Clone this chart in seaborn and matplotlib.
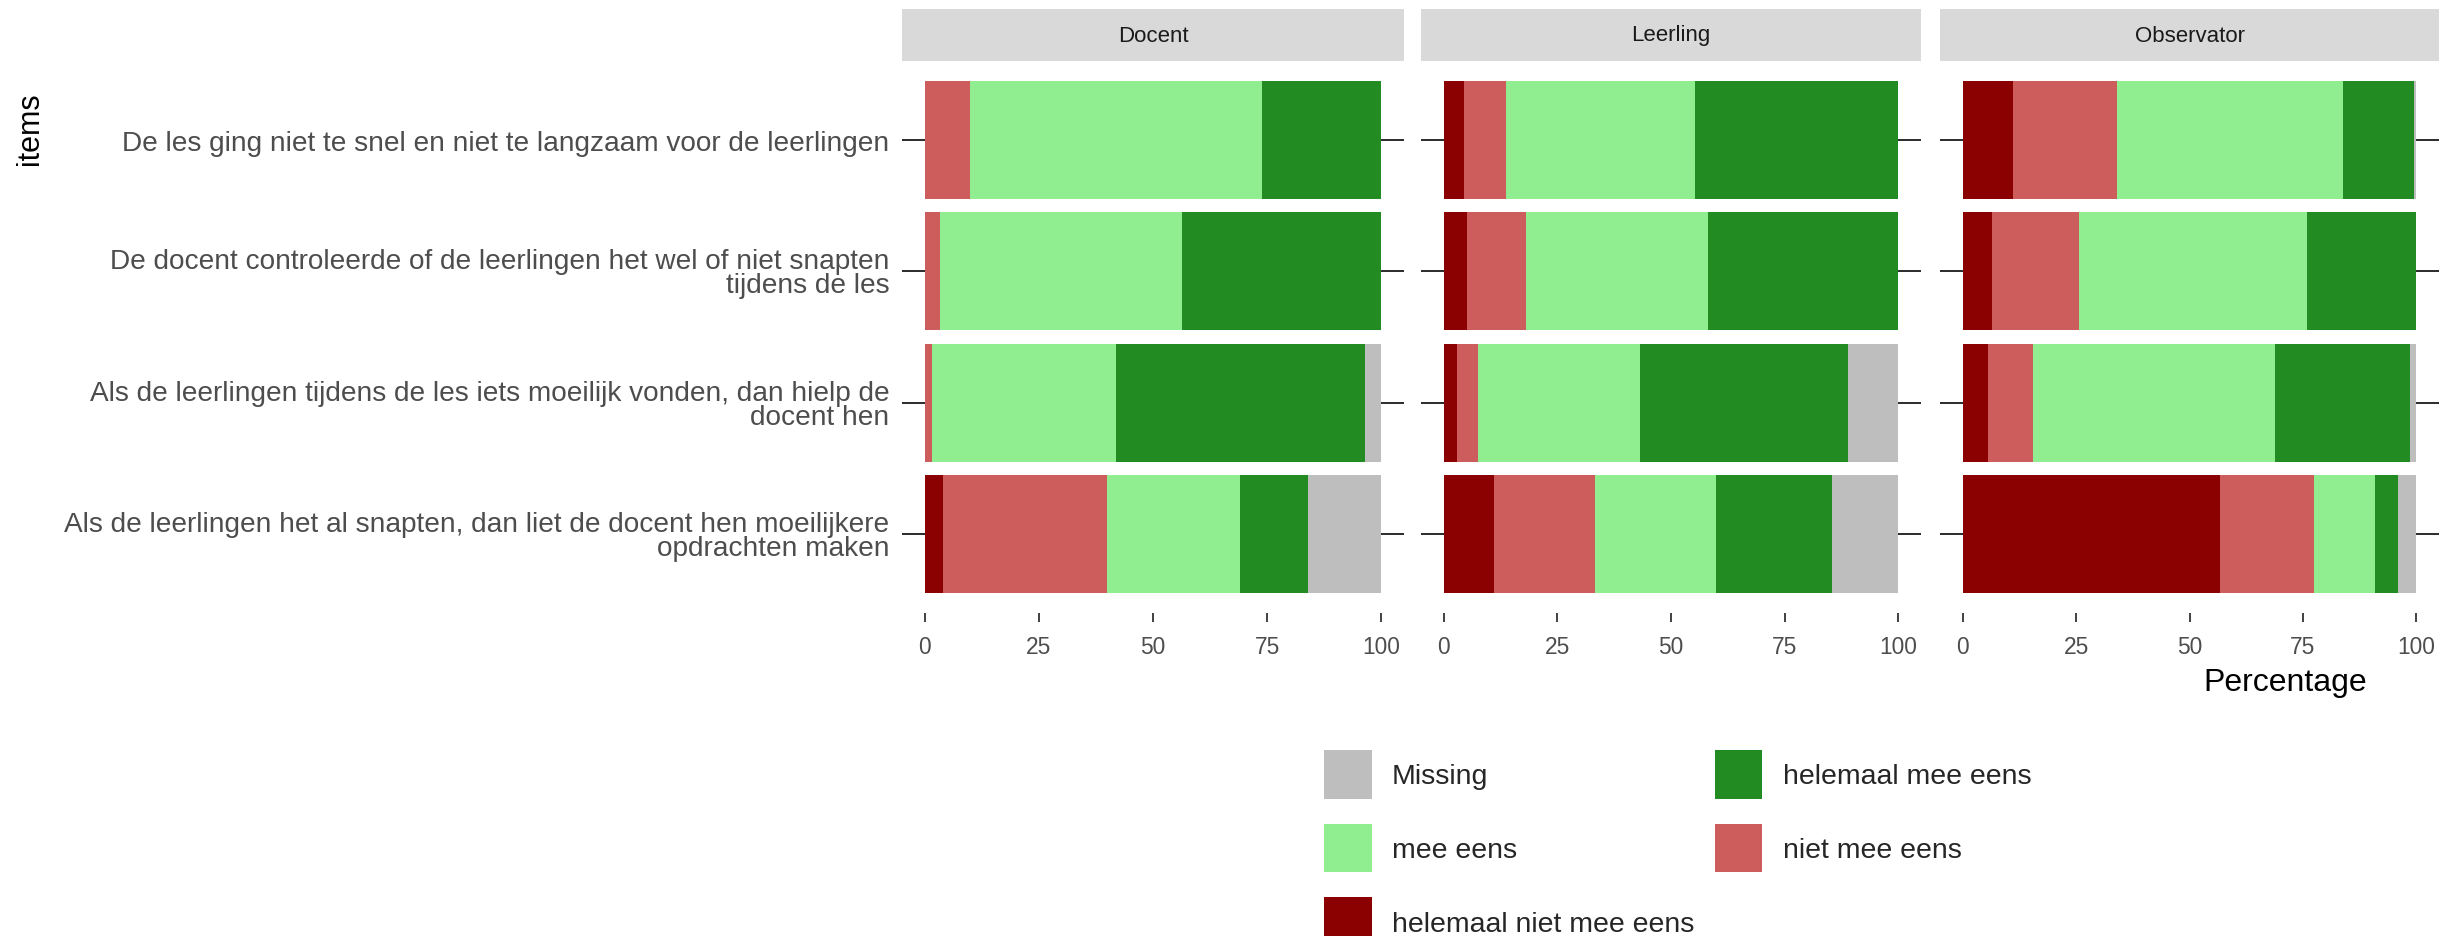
"""
Likert chart: items rated by Docent, Leerling and Observator
"""
import pandas as pd
import matplotlib
matplotlib.use("Agg")
import matplotlib.pyplot as plt
from matplotlib import font_manager
from matplotlib.patches import Patch, Rectangle
import seaborn as sns

# ---- data (percentages) ----
raters = ["Docent", "Leerling", "Observator"]
items = [
    "De les ging niet te snel en niet te langzaam voor de leerlingen",
    "De docent controleerde of de leerlingen het wel of niet snapten\ntijdens de les",
    "Als de leerlingen tijdens de les iets moeilijk vonden, dan hielp de\ndocent hen",
    "Als de leerlingen het al snapten, dan liet de docent hen moeilijkere\nopdrachten maken",
]
levels = ["helemaal niet mee eens", "niet mee eens", "mee eens", "helemaal mee eens", "Missing"]
level_colors = ["#8B0000", "#CD5C5C", "#90EE90", "#228B22", "#BEBEBE"]

docent_hnme = [0.0, 0.0, 0.0, 4.0]
docent_nme = [10.0, 3.4, 1.5, 35.9]
docent_me = [63.9, 53.0, 40.5, 29.1]
docent_hme = [26.1, 43.6, 54.5, 15.0]
docent_miss = [0.0, 0.0, 3.5, 16.0]

leerling_hnme = [4.5, 5.1, 3.0, 11.1]
leerling_nme = [9.1, 13.0, 4.5, 22.1]
leerling_me = [41.6, 40.1, 35.7, 26.6]
leerling_hme = [44.8, 41.8, 45.7, 25.6]
leerling_miss = [0.0, 0.0, 11.1, 14.6]

observator_hnme = [11.0, 6.5, 5.5, 56.8]
observator_nme = [23.1, 19.1, 10.1, 20.6]
observator_me = [49.8, 50.3, 53.2, 13.5]
observator_hme = [15.6, 24.1, 29.7, 5.1]
observator_miss = [0.5, 0.0, 1.5, 4.0]

x_ticks = [0, 25, 50, 75, 100]

series = {
    "Docent": [docent_hnme, docent_nme, docent_me, docent_hme, docent_miss],
    "Leerling": [leerling_hnme, leerling_nme, leerling_me, leerling_hme, leerling_miss],
    "Observator": [observator_hnme, observator_nme, observator_me, observator_hme, observator_miss],
}

rows = []
for rater in raters:
    for level, vals in zip(levels, series[rater]):
        for item, v in zip(items, vals):
            rows.append({"rater": rater, "item": item, "level": level, "value": v})
df = pd.DataFrame(rows)
df["level"] = pd.Categorical(df["level"], categories=levels, ordered=True)
df = df.sort_values(["rater", "item", "level"])
df["cum"] = df.groupby(["rater", "item"], observed=True)["value"].cumsum()

# ---- fonts ----
sns.set_style("white")
names = {f.name for f in font_manager.fontManager.ttflist}
if "Liberation Sans Narrow" in names:
    NARROW, k = "Liberation Sans Narrow", 1.0
else:
    NARROW, k = "Liberation Sans", 0.82
REGULAR = ["Liberation Sans", "DejaVu Sans"]
plt.rcParams["font.family"] = [NARROW, "DejaVu Sans"]

W, H = 2445, 937
fig = plt.figure(figsize=(W / 100, H / 100), dpi=100)

panel_x = [(902, 1404), (1421, 1921), (1940, 2439)]
p_top, p_bot = 62, 614

for i, (rater, (x0, x1)) in enumerate(zip(raters, panel_x)):
    ax = fig.add_axes([x0 / W, 1 - p_bot / H, (x1 - x0) / W, (p_bot - p_top) / H])
    sub = df[df["rater"] == rater]
    # draw cumulative bars from the widest down so every segment shows
    for level, color in reversed(list(zip(levels, level_colors))):
        sns.barplot(data=sub[sub["level"] == level], x="cum", y="item", order=items,
                    color=color, saturation=1, orient="h", width=0.9, linewidth=0,
                    errorbar=None, ax=ax)
    ax.set_xlim(-5, 105)
    ax.set_ylim(3.6, -0.6)
    ax.set_xticks(x_ticks)
    ax.set_xticklabels([str(t) for t in x_ticks])
    ax.set_xlabel("")
    ax.set_ylabel("")
    for s in ax.spines.values():
        s.set_visible(False)
    ax.tick_params(axis="x", bottom=True, direction="out", length=6.5, width=1.3,
                   color="#333333", pad=9, labelsize=20 * k, labelcolor="#4D4D4D")
    ax.tick_params(axis="y", left=True, right=True, direction="in", length=16.5,
                   width=1.3, color="#1A1A1A", pad=9, labelsize=20.2,
                   labelcolor="#4D4D4D")
    if i > 0:
        ax.set_yticklabels([])
    else:
        for lab in ax.get_yticklabels():
            lab.set_family(REGULAR)
            lab.set_linespacing(0.9)
    # facet strip
    ax.add_patch(Rectangle((0, 1.0), 1, 52 / (p_bot - p_top), transform=ax.transAxes,
                           clip_on=False, color="#D9D9D9", lw=0))
    ax.text(0.5, 1 + 26 / (p_bot - p_top), rater, transform=ax.transAxes,
            ha="center", va="center", fontsize=19.5 * k, color="#1A1A1A")

fig.text(30 / W, 1 - 129 / H, "items", rotation=90, ha="center", va="center",
         fontsize=22, family=REGULAR, color="black")
fig.text(2285 / W, 1 - 683 / H, "Percentage", ha="center", va="center",
         fontsize=23, family=REGULAR, color="black")

# legend, ggplot order filled row by row
leg_order = ["Missing", "mee eens", "helemaal niet mee eens", "helemaal mee eens", "niet mee eens"]
cmap = dict(zip(levels, level_colors))
handles = [Patch(facecolor=cmap[l], edgecolor="none", label=l) for l in leg_order]
fs = 25 * k
fig.legend(handles=handles, loc="upper left", bbox_to_anchor=(1324 / W, 1 - 751 / H),
           ncol=2, frameon=False, fontsize=fs, borderpad=0, borderaxespad=0,
           handlelength=1.38 / k, handleheight=1.85 / k, handletextpad=0.58 / k,
           labelspacing=0.72 / k, columnspacing=0.58 / k)

fig.savefig("out.png", dpi=100)
